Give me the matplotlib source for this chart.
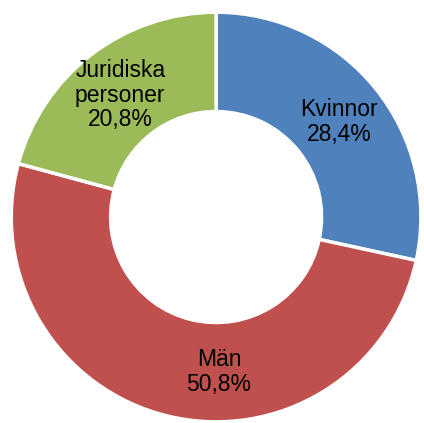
import numpy as np
import matplotlib.pyplot as plt

plt.rcParams['font.family'] = ['Liberation Sans', 'DejaVu Sans']

# data
labels = ["Kvinnor", "Män", "Juridiska\npersoner"]
shares = [28.4, 50.8, 20.8]
colors = ["#4F81BD", "#C0504D", "#9BBB59"]

fig = plt.figure(figsize=(4.24, 4.23), dpi=100)
ax = fig.add_axes([0, 0, 1, 1])

wedges, _ = ax.pie(shares, colors=colors, startangle=90, counterclock=False,
                   radius=1.0, wedgeprops=dict(width=0.485, edgecolor="white", linewidth=2.5))

# label placement (angle in degrees, radius as fraction of outer radius)
label_pos = [(37.7, 0.758), (-88.9, 0.756), (128.2, 0.757)]
for lab, val, (ang, r) in zip(labels, shares, label_pos):
    t = np.deg2rad(ang)
    txt = f"{lab}\n{val:.1f}%".replace(".", ",")
    ax.text(r * np.cos(t), r * np.sin(t), txt, ha="center", va="center",
            fontsize=16.5, linespacing=1.08, color="black")

ax.set_xlim(-1.055, 1.015)
ax.set_ylim(-1.005, 1.059)
ax.set_aspect("equal")
ax.axis("off")

fig.savefig("out.png", dpi=100)
